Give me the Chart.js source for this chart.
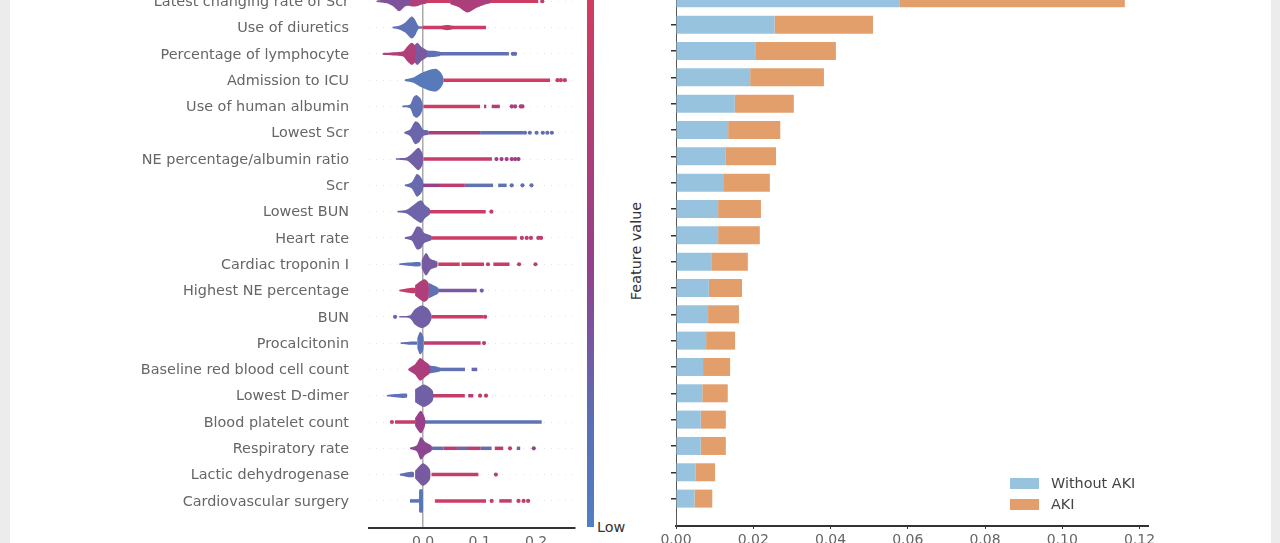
<!DOCTYPE html>
<html>
<head>
<meta charset="utf-8">
<script src="https://cdn.jsdelivr.net/npm/chart.js@4/dist/chart.umd.min.js"></script>
<style>
  html, body { margin: 0; padding: 0; width: 1280px; height: 543px; overflow: hidden; background: #ececec; }
  #page { position: absolute; left: 10px; top: 0; width: 1261px; height: 543px; background: #fff; }
  canvas { position: absolute; filter: blur(0.35px); }
  #swarm { left: 0; top: -26px; }
  #bars { left: 650px; top: -28px; }
  .txt { position: absolute; font: 14.4px "DejaVu Sans", sans-serif; color: #333; white-space: nowrap; }
  #colorbar { position: absolute; left: 587px; top: 0; width: 7px; height: 527px;
    background: linear-gradient(to bottom, #d23c60, #93408d 50%, #5a6fb4 80%, #5080c0); }
  #low { left: 597px; top: 519px; }
  #feature { left: 636px; top: 251px; transform: translate(-50%, -50%) rotate(-90deg); }
  .swatch { position: absolute; left: 1010px; width: 29px; height: 11px; }
  .legendtxt { left: 1051px; color: #444; }
</style>
</head>
<body>
<div id="page"></div>
<canvas id="swarm" width="580" height="584"></canvas>
<div id="colorbar"></div>
<div class="txt" id="low">Low</div>
<div class="txt" id="feature">Feature value</div>
<canvas id="bars" width="530" height="584"></canvas>
<div class="swatch" id="swatchNoAki" style="top:478px"></div>
<div class="txt legendtxt" style="top:475px">Without AKI</div>
<div class="swatch" id="swatchAki" style="top:499px"></div>
<div class="txt legendtxt" style="top:496px">AKI</div>

<script>
const features = ['Latest changing rate of Scr', 'Use of diuretics', 'Percentage of lymphocyte', 'Admission to ICU',
  'Use of human albumin', 'Lowest Scr', 'NE percentage/albumin ratio', 'Scr', 'Lowest BUN', 'Heart rate',
  'Cardiac troponin I', 'Highest NE percentage', 'BUN', 'Procalcitonin', 'Baseline red blood cell count',
  'Lowest D-dimer', 'Blood platelet count', 'Respiratory rate', 'Lactic dehydrogenase', 'Cardiovascular surgery'];

// mean |SHAP| per class
const withoutAki = [0.0578, 0.0255, 0.0207, 0.0192, 0.0152, 0.0135, 0.0129, 0.0122, 0.0109, 0.0109,
  0.0093, 0.0085, 0.0083, 0.0078, 0.0070, 0.0068, 0.0064, 0.0064, 0.0050, 0.0048];
const aki = [0.0584, 0.0255, 0.0207, 0.0191, 0.0153, 0.0135, 0.0130, 0.0121, 0.0111, 0.0108,
  0.0093, 0.0086, 0.0080, 0.0075, 0.0070, 0.0066, 0.0065, 0.0065, 0.0051, 0.0046];

const barTicks = [0, 0.02, 0.04, 0.06, 0.08, 0.10, 0.12];
const swarmTicks = [0, 0.1, 0.2];

// swarm bodies per row: [feature level 0-1, [shap, half height in rows], ...]
const bodies = [
  [[0.35, [-0.082, 0.03], [-0.064, 0.08], [-0.0525, 0.2], [-0.042, 0.38], [-0.032, 0.2], [-0.023, 0.12]],
   [0.72, [-0.032, 0.1], [-0.023, 0.18], [-0.014, 0.2], [-0.002, 0.12], [0.0065, 0.08]],
   [0.7, [0.048, 0.1], [0.0625, 0.22], [0.0785, 0.43], [0.095, 0.25], [0.11, 0.12], [0.1215, 0.06]]],
  [[0.1, [-0.054, 0.03], [-0.041, 0.08], [-0.032, 0.18], [-0.02, 0.42], [-0.014, 0.3], [-0.008, 0.06], [-0.002, 0.04]],
   [0.88, [0.03, 0.05], [0.042, 0.1], [0.054, 0.05]]],
  [[0.72, [-0.0714, 0.03], [-0.0525, 0.06], [-0.035, 0.1], [-0.029, 0.25], [-0.02, 0.42], [-0.014, 0.3]],
   [0.3, [-0.016, 0.3], [-0.01, 0.42], [-0.002, 0.25], [0.0065, 0.13]],
   [0.12, [-0.002, 0.13], [0.0065, 0.13], [0.03, 0.08]]],
  [[0.05, [-0.032, 0.03], [-0.017, 0.1], [-0.005, 0.25], [0.0094, 0.38], [0.023, 0.43], [0.031, 0.3], [0.036, 0.1]]],
  [[0.12, [-0.0366, 0.03], [-0.023, 0.07], [-0.017, 0.35], [-0.011, 0.43], [-0.004, 0.3], [-0.0006, 0.08]]],
  [[0.2, [-0.033, 0.03], [-0.023, 0.12], [-0.014, 0.43], [-0.0065, 0.35], [0, 0.12], [0.0094, 0.08]]],
  [[0.25, [-0.048, 0.03], [-0.029, 0.06], [-0.02, 0.2], [-0.008, 0.43], [-0.0006, 0.2]]],
  [[0.18, [-0.032, 0.03], [-0.02, 0.12], [-0.011, 0.43], [-0.005, 0.35], [0, 0.15]]],
  [[0.22, [-0.045, 0.03], [-0.029, 0.07], [-0.014, 0.3], [-0.0035, 0.43], [0.0035, 0.25], [0.012, 0.1]]],
  [[0.25, [-0.032, 0.03], [-0.02, 0.1], [-0.011, 0.43], [-0.004, 0.4], [0.0018, 0.2], [0.015, 0.08]]],
  [[0.1, [-0.042, 0.03], [-0.005, 0.08]],
   [0.3, [-0.0024, 0.15], [0.0053, 0.43], [0.0136, 0.2], [0.025, 0.1]]],
  [[0.9, [-0.042, 0.03], [-0.014, 0.1]],
   [0.72, [-0.014, 0.2], [0.0018, 0.43], [0.0094, 0.3]],
   [0.12, [0.0094, 0.3], [0.027, 0.1]]],
  [[0.25, [-0.042, 0.03], [-0.023, 0.06], [-0.014, 0.3], [-0.002, 0.43], [0.0094, 0.3], [0.015, 0.08]]],
  [[0.15, [-0.0395, 0.03], [-0.011, 0.06]],
   [0.1, [-0.01, 0.2], [-0.005, 0.43], [0.0006, 0.25]]],
  [[0.7, [-0.026, 0.03], [-0.014, 0.2], [-0.005, 0.43], [0.0035, 0.3], [0.012, 0.15]],
   [0.12, [0.012, 0.15], [0.03, 0.07]]],
  [[0.1, [-0.064, 0.03], [-0.029, 0.08]],
   [0.25, [-0.014, 0.25], [0.0018, 0.43], [0.017, 0.2]]],
  [[0.55, [-0.014, 0.15], [-0.004, 0.43], [0.0035, 0.15]]],
  [[0.45, [-0.023, 0.03], [-0.011, 0.12], [-0.004, 0.43], [0.0035, 0.25], [0.015, 0.1]]],
  [[0.15, [-0.041, 0.03], [-0.017, 0.1]],
   [0.3, [-0.014, 0.15], [0, 0.43], [0.012, 0.2]]],
  [[0.08, [-0.023, 0.03], [-0.008, 0.05], [-0.0065, 0.43], [-0.0006, 0.43], [0, 0.05]]]
];

// long thin tails per row: [from, to, level]
const tails = [
  [[-0.002, 0.0485, 0.95], [0.1215, 0.204, 0.95]],
  [[-0.001, 0.1115, 0.95]],
  [[0.03, 0.152, 0.12]],
  [[0.036, 0.225, 1]],
  [[0.0006, 0.101, 0.95], [0.108, 0.112, 0.8], [0.1215, 0.136, 0.75]],
  [[0.0094, 0.101, 0.7], [0.101, 0.178, 0.12]],
  [[0.0006, 0.122, 0.9]],
  [[0, 0.03, 0.5], [0.03, 0.074, 0.85], [0.074, 0.124, 0.12], [0.133, 0.148, 0.1]],
  [[0.012, 0.111, 0.95]],
  [[0.015, 0.166, 0.95]],
  [[0.027, 0.065, 0.95], [0.068, 0.108, 0.95], [0.1245, 0.153, 0.9]],
  [[0.027, 0.095, 0.3]],
  [[0.015, 0.107, 0.95]],
  [[0.0018, 0.102, 0.85]],
  [[0.03, 0.0743, 0.12], [0.086, 0.096, 0.2]],
  [[0.017, 0.074, 0.9], [0.08, 0.089, 0.75]],
  [[-0.0495, -0.014, 0.9], [0.0035, 0.21, 0.1]],
  [[0.015, 0.036, 0.15], [0.036, 0.06, 0.8], [0.06, 0.078, 0.2], [0.078, 0.102, 0.85], [0.102, 0.1215, 0.15], [0.127, 0.142, 0.85], [0.166, 0.172, 0.2]],
  [[0.015, 0.098, 0.9]],
  [[-0.023, -0.008, 0.1], [0.021, 0.1115, 0.95], [0.135, 0.157, 0.9]]
];

// isolated points per row: [shap, level]
const outliers = [
  [[0.211, 0.85]],
  [],
  [[0.159, 0.15], [0.163, 0.15]],
  [[0.238, 0.9], [0.244, 0.9], [0.251, 0.9]],
  [[0.157, 0.7], [0.163, 0.7], [0.173, 0.7], [0.176, 0.7]],
  [[0.1805, 0.15], [0.189, 0.15], [0.201, 0.15], [0.212, 0.15], [0.22, 0.15], [0.228, 0.15]],
  [[0.13, 0.6], [0.139, 0.6], [0.148, 0.6], [0.157, 0.6], [0.163, 0.6], [0.169, 0.6]],
  [[0.157, 0.15], [0.176, 0.15], [0.192, 0.15]],
  [[0.121, 0.85]],
  [[0.175, 0.85], [0.1835, 0.85], [0.191, 0.85], [0.204, 0.85], [0.209, 0.85]],
  [[0.115, 0.85], [0.17, 0.8], [0.199, 0.8]],
  [[0.104, 0.2]],
  [[-0.0495, 0.2], [0.11, 0.85]],
  [[0.108, 0.8]],
  [],
  [[0.101, 0.85], [0.1115, 0.85]],
  [[-0.055, 0.9]],
  [[0.154, 0.85], [0.196, 0.5]],
  [[0.129, 0.8]],
  [[0.1215, 0.9], [0.169, 0.9], [0.178, 0.9], [0.186, 0.9]]
];

const blueBar = '#97c3df';
const orangeBar = '#e29f6c';
document.getElementById('swatchNoAki').style.background = blueBar;
document.getElementById('swatchAki').style.background = orangeBar;

// blue -> purple -> red, same ramp as the colour bar
function levelColor(t) {
  const stops = [[80, 128, 192], [147, 64, 141], [210, 60, 96]];
  const k = t < 0.5 ? 0 : 1;
  const f = (t - k * 0.5) * 2;
  const c = [0, 1, 2].map(i => Math.round(stops[k][i] + (stops[k + 1][i] - stops[k][i]) * f));
  return `rgb(${c[0]},${c[1]},${c[2]})`;
}

const swarmSets = [];
features.forEach((name, row) => {
  bodies[row].forEach(([level, ...pts]) => {
    const upper = pts.map(p => ({ x: p[0], y: row - p[1] }));
    const lower = pts.map(p => ({ x: p[0], y: row + p[1] })).reverse();
    swarmSets.push({
      label: name, data: upper.concat(lower), showLine: true, fill: 'shape', tension: 0.25,
      borderWidth: 0, pointRadius: 0, backgroundColor: levelColor(level)
    });
  });
  tails[row].forEach(([from, to, level]) => {
    swarmSets.push({
      label: name, data: [{ x: from, y: row }, { x: to, y: row }], showLine: true, fill: false,
      borderWidth: 3.5, borderColor: levelColor(level), pointRadius: 0
    });
  });
  if (outliers[row].length) {
    swarmSets.push({
      label: name, data: outliers[row].map(p => ({ x: p[0], y: row })), showLine: false,
      pointRadius: 2.1, borderWidth: 0, pointBackgroundColor: outliers[row].map(p => levelColor(p[1]))
    });
  }
});

const tickText = { color: '#666', font: { family: '"DejaVu Sans"', size: 14 } };
const labelText = { color: '#666', font: { family: '"DejaVu Sans"', size: 14.4 } };

new Chart(document.getElementById('swarm'), {
  type: 'scatter',
  data: { datasets: swarmSets },
  options: {
    responsive: false,
    animation: false,
    layout: { padding: { left: 0, right: 5, top: 0, bottom: 0 } },
    plugins: { legend: { display: false }, tooltip: { enabled: false } },
    scales: {
      x: {
        type: 'linear', offset: false, min: -0.0956, max: 0.269,
        afterBuildTicks: axis => { axis.ticks = swarmTicks.map(v => ({ value: v })); },
        afterFit: axis => { axis.height = 30; },
        border: { color: '#333', width: 2 },
        grid: { offset: false, color: ctx => ctx.tick && ctx.tick.value === 0 ? '#aaa' : 'transparent', lineWidth: 1.5, drawTicks: false },
        ticks: { ...tickText, padding: 6, maxRotation: 0, callback: v => v.toFixed(1) }
      },
      y: {
        type: 'linear', offset: false, reverse: true, min: -0.884, max: 20.03,
        afterBuildTicks: axis => { axis.ticks = features.map((f, i) => ({ value: i })); },
        // tick padding would otherwise be added above and below the plot
        afterFit: axis => { axis.width = 369; axis.paddingTop = 0; axis.paddingBottom = 0; },
        border: { display: false, dash: [1, 6] },
        grid: { offset: false, color: 'rgba(0,0,0,0.10)', lineWidth: 1, drawTicks: false },
        ticks: { ...labelText, padding: 20, labelOffset: 1, callback: v => features[v] }
      }
    }
  }
});

new Chart(document.getElementById('bars'), {
  type: 'bar',
  data: {
    datasets: [
      { label: 'Without AKI', data: withoutAki.map((v, i) => ({ x: v, y: i })), backgroundColor: blueBar, barPercentage: 0.684, categoryPercentage: 1 },
      { label: 'AKI', data: aki.map((v, i) => ({ x: v, y: i })), backgroundColor: orangeBar, barPercentage: 0.684, categoryPercentage: 1 }
    ]
  },
  options: {
    indexAxis: 'y',
    responsive: false,
    animation: false,
    layout: { padding: { left: 0, right: 32, top: 0, bottom: 0 } },
    plugins: { legend: { display: false }, tooltip: { enabled: false } },
    scales: {
      x: {
        type: 'linear', stacked: true, min: 0, max: 0.1222,
        afterBuildTicks: axis => { axis.ticks = barTicks.map(v => ({ value: v })); },
        afterFit: axis => { axis.height = 30; },
        border: { color: '#333', width: 2 },
        grid: { display: true, drawOnChartArea: false, drawTicks: true, tickLength: 3, color: '#333' },
        ticks: { ...tickText, padding: 3, maxRotation: 0, callback: v => v.toFixed(2) }
      },
      y: {
        type: 'linear', offset: false, stacked: true, reverse: true, min: -1, max: 20.04,
        afterBuildTicks: axis => { axis.ticks = features.map((f, i) => ({ value: i })); },
        afterFit: axis => { axis.width = 26; },
        border: { color: '#555', width: 1 },
        grid: { offset: false, drawOnChartArea: false, drawTicks: true, tickLength: 5, color: '#333', lineWidth: 1.5 },
        ticks: { display: false }
      }
    }
  }
});
</script>
</body>
</html>
